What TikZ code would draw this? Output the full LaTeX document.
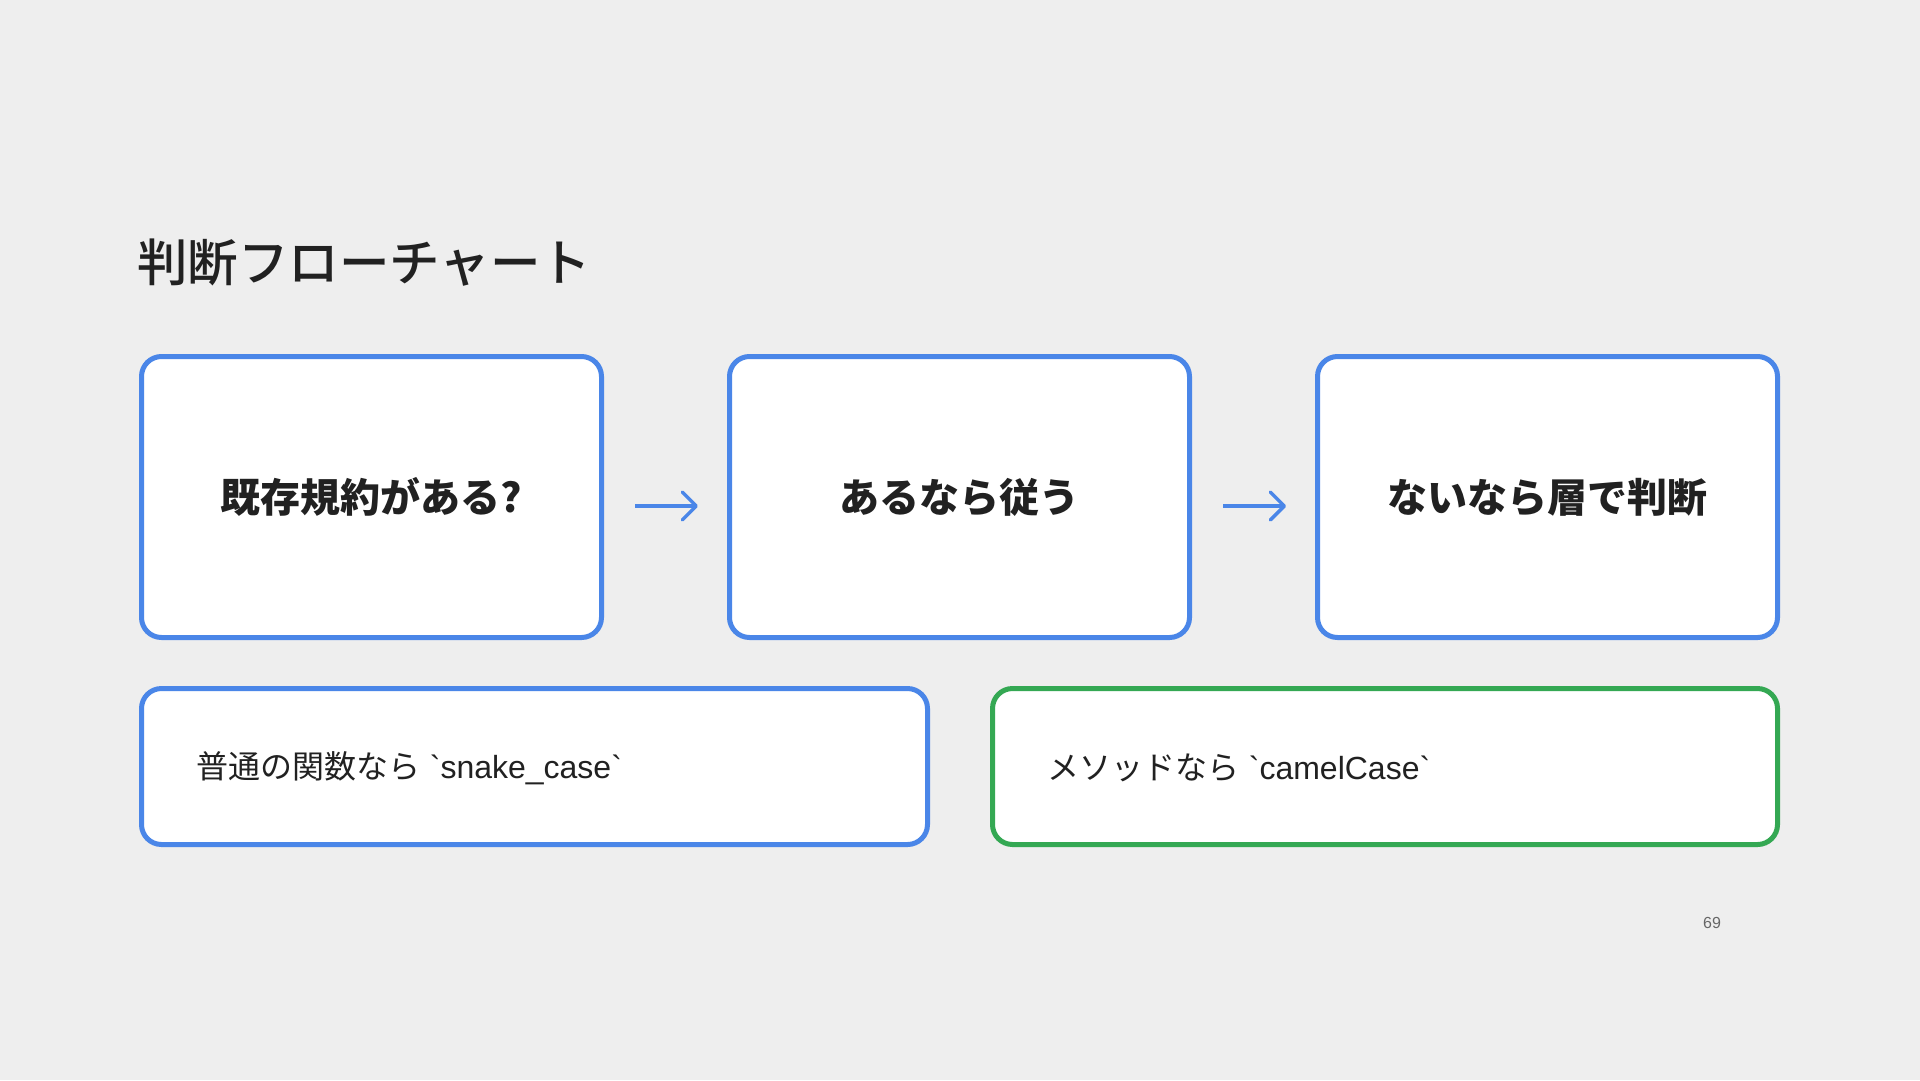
\documentclass[tikz,border=0pt]{standalone}
\usepackage{fontspec}
\usetikzlibrary{arrows.meta}
\newfontfamily\jp{Noto Sans CJK JP}
\newfontfamily\jpmed{Noto Sans CJK JP Medium}
\newfontfamily\lat{Liberation Sans}
\definecolor{bg}{HTML}{EEEEEE}
\definecolor{bl}{HTML}{4A86E8}
\definecolor{gr}{HTML}{34A853}
\definecolor{ink}{HTML}{212121}
\definecolor{pg}{HTML}{666666}
\begin{document}
\begin{tikzpicture}[x=1pt,y=-1pt,
  card/.style={draw=bl, line width=5pt, fill=white, rounded corners=20pt, inner sep=0pt},
  bigcard/.style={card, minimum width=460pt, minimum height=281pt, text=ink,
    font={\jp\bfseries\fontsize{40pt}{48pt}\selectfont}},
  notecard/.style={card, minimum height=156pt, text=ink},
  notetext/.style={anchor=west, inner sep=0pt, text=ink, font={\fontsize{32pt}{38pt}\selectfont}},
  flow/.style={draw=bl, line width=3.5pt, -{Straight Barb[length=14pt,width=28pt,line width=3.5pt,round]}}
]
\fill[bg] (0,0) rectangle (1920,1080);
\useasboundingbox (0,0) rectangle (1920,1080);

\node[anchor=west, inner sep=0pt, text=ink, font={\jpmed\fontsize{50.5pt}{58pt}\selectfont}] (title) at (137,263) {判断フローチャート};

\node[bigcard] (b1) at (371.5,497) {既存規約がある?};
\node[bigcard] (b2) at (959.5,497) {あるなら従う};
\node[bigcard] (b3) at (1547.5,497) {ないなら層で判断};

\draw[flow, shorten <=31pt, shorten >=29pt] ([yshift=-9pt]b1.east) -- ([yshift=-9pt]b2.west);
\draw[flow, shorten <=31pt, shorten >=29pt] ([yshift=-9pt]b2.east) -- ([yshift=-9pt]b3.west);

\node[notecard, minimum width=786pt] (n1) at (534.5,766.5) {};
\node[notecard, draw=gr, minimum width=785pt] (n2) at (1385,766.5) {};

\node[notetext] (t1) at ([xshift=57pt,yshift=-2pt]n1.west) {{\jp 普通の関数なら} {\lat\textasciigrave snake\_case\textasciigrave}};
\node[notetext] (t2) at ([xshift=57pt,yshift=-1pt]n2.west) {{\jp メソッドなら} {\lat\textasciigrave camelCase\textasciigrave}};

\node[inner sep=0pt, text=pg, font={\lat\fontsize{16pt}{19pt}\selectfont}] (page) at (1712,923) {69};
\end{tikzpicture}
\end{document}
